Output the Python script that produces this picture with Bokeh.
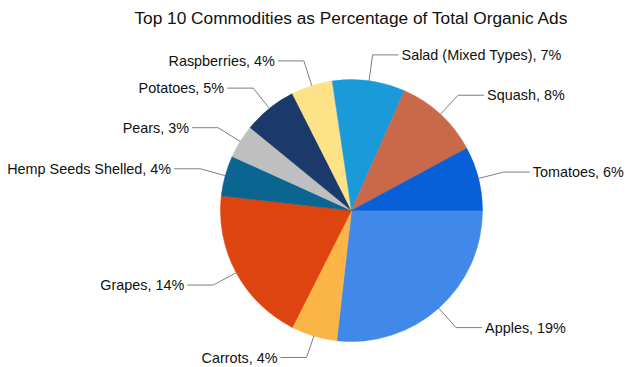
import math
from bokeh.plotting import figure
from bokeh.models import Range1d
from bokeh.core.properties import value
from bokeh.embed import file_html
from bokeh.resources import INLINE

# ---- data ----
commodities = ["Apples", "Carrots", "Grapes", "Hemp Seeds Shelled", "Pears",
               "Potatoes", "Raspberries", "Salad (Mixed Types)", "Squash", "Tomatoes"]
shares = [19.4, 4.1, 14.0, 3.6, 3.0, 4.8, 3.7, 6.5, 7.6, 5.7]
pct_labels = ["19%", "4%", "14%", "4%", "3%", "5%", "4%", "7%", "8%", "6%"]
colors = ["#4189E8", "#FBB446", "#DD4410", "#0A6591", "#BFBFBF",
          "#1B3A6B", "#FDE287", "#1A9AD9", "#C9694A", "#0760D8"]
title_text = "Top 10 Commodities as Percentage of Total Organic Ads"

# ---- layout (pixel space, y measured down from top of window) ----
W, H = 626, 367
cx, cy_screen = 351, 210
R = 131
R_ELBOW = 157
ARM = 26
GAP = 3
FONT_PX = 14.4
EDGE_PAD = 10

def yd(y_screen):
    return H - y_screen

p = figure(width=W, height=H, output_backend="svg", toolbar_location=None,
           x_range=Range1d(0, W), y_range=Range1d(0, H),
           min_border=0, outline_line_color=None)
p.axis.visible = False
p.grid.visible = False
p.background_fill_color = "white"
p.border_fill_color = "white"

total = sum(shares)
cum = 0.0
starts, ends, mids = [], [], []
for v in shares:
    a0 = cum / total * 2 * math.pi
    cum += v
    a1 = cum / total * 2 * math.pi
    starts.append(-a1)
    ends.append(-a0)
    mids.append((a0 + a1) / 2)

p.wedge(x=[cx] * len(shares), y=[yd(cy_screen)] * len(shares), radius=R,
        start_angle=starts, end_angle=ends, direction="anticlock",
        fill_color=colors, line_color=colors, line_width=0.5)

xs, ys = [], []
tx, ty, texts, aligns = [], [], [], []
for name, pl, m in zip(commodities, pct_labels, mids):
    ex = cx + R * math.cos(m)
    ey = cy_screen + R * math.sin(m)
    bx = cx + R_ELBOW * math.cos(m)
    by = cy_screen + R_ELBOW * math.sin(m)
    by = min(by, H - EDGE_PAD)
    right = math.cos(m) >= 0
    hx = bx + ARM if right else bx - ARM
    xs.append([ex, bx, hx])
    ys.append([yd(ey), yd(by), yd(by)])
    tx.append(hx + GAP if right else hx - GAP)
    ty.append(yd(by))
    texts.append(f"{name}, {pl}")
    aligns.append("left" if right else "right")

p.multi_line(xs=xs, ys=ys, line_color="#7F7F7F", line_width=1)

for x, y, t, a in zip(tx, ty, texts, aligns):
    p.text(x=[x], y=[y], text=[t], text_align=a, text_baseline="middle",
           text_font=value("Liberation Sans"), text_font_size=f"{FONT_PX}px",
           text_color="#111111")

p.text(x=[cx], y=[yd(17.3)], text=[title_text], text_align="center",
       text_baseline="alphabetic", text_font=value("Liberation Sans"),
       text_font_size="17.3px", text_color="#111111")

open("out.html", "w").write(file_html(p, INLINE))
